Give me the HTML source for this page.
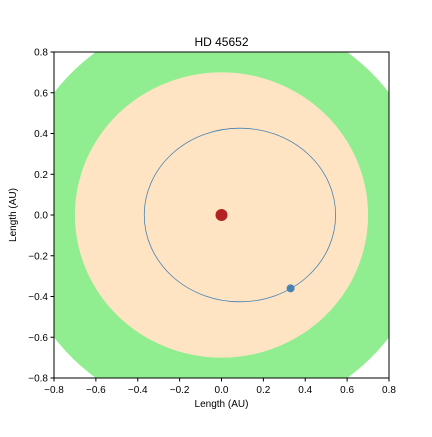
<!DOCTYPE html>
<html><head><meta charset="utf-8"><style>
body{margin:0;background:#fff}
svg text{font-family:"Liberation Sans",sans-serif;fill:#000}
</style></head><body>
<svg id="c" width="432" height="432" xmlns="http://www.w3.org/2000/svg">
<defs><clipPath id="clip"><rect x="54" y="52" width="335" height="326"/></clipPath></defs>
<g id="plot" clip-path="url(#clip)"></g>
<rect x="54" y="52" width="335" height="326" fill="none" stroke="#000" stroke-width="1"/>
<g id="axes"></g>
<text x="221.5" y="46" font-size="12" text-anchor="middle">HD 45652</text>
<text x="221.5" y="407" font-size="10" text-anchor="middle">Length (AU)</text>
<text x="16" y="215" font-size="10" text-anchor="middle" transform="rotate(-90 16 215)">Length (AU)</text>
</svg>
<script>
const zoneRadii=[1.0,0.7];
const zoneColors=['#90ee90','#ffe4c4'];
const zoneNames=['habitable-zone-outer','inner-zone'];
const orbitCenter=[0.088,0];
const orbitAxes=[0.457,0.426];
const planetPos=[0.33,-0.36];
const starPos=[0,0];
const ticks=[-0.8,-0.6,-0.4,-0.2,0.0,0.2,0.4,0.6,0.8];
const tickLabels=['−0.8','−0.6','−0.4','−0.2','0.0','0.2','0.4','0.6','0.8'];
const X0=54,X1=389,Y0=378,Y1=52;
const sx=v=>X0+(v+0.8)/1.6*(X1-X0);
const sy=v=>Y0-(v+0.8)/1.6*(Y0-Y1);
const NS='http://www.w3.org/2000/svg';
const plot=document.getElementById('plot'),axes=document.getElementById('axes');
function mk(p,t,a){const e=document.createElementNS(NS,t);for(const k in a)e.setAttribute(k,a[k]);p.appendChild(e);return e;}
zoneRadii.forEach((r,i)=>{
 const e=mk(plot,'ellipse',{cx:sx(0),cy:sy(0),rx:sx(r)-sx(0),ry:sy(0)-sy(r),fill:zoneColors[i]});
 
 
});
const o=mk(plot,'ellipse',{cx:sx(orbitCenter[0]),cy:sy(orbitCenter[1]),rx:sx(orbitAxes[0])-sx(0),ry:sy(0)-sy(orbitAxes[1]),fill:'none',stroke:'#4682b4','stroke-width':0.8});


const s=mk(plot,'circle',{cx:sx(starPos[0]),cy:sy(starPos[1]),r:6,fill:'#b22222'});


const p=mk(plot,'circle',{cx:sx(planetPos[0]),cy:sy(planetPos[1]),r:4,fill:'#4682b4'});


ticks.forEach((t,i)=>{
 const x=sx(t),y=sy(t);
 mk(axes,'line',{x1:x,x2:x,y1:Y0,y2:Y0+3.5,stroke:'#000'});
 const tx=mk(axes,'text',{x:x,y:Y0+15,'font-size':10,'text-anchor':'middle'});tx.textContent=tickLabels[i];
 
 
 mk(axes,'line',{x1:X0-3.5,x2:X0,y1:y,y2:y,stroke:'#000'});
 const ty=mk(axes,'text',{x:X0-6,y:y+3.5,'font-size':10,'text-anchor':'end'});ty.textContent=tickLabels[i];
 
 
});
</script>
</body></html>
